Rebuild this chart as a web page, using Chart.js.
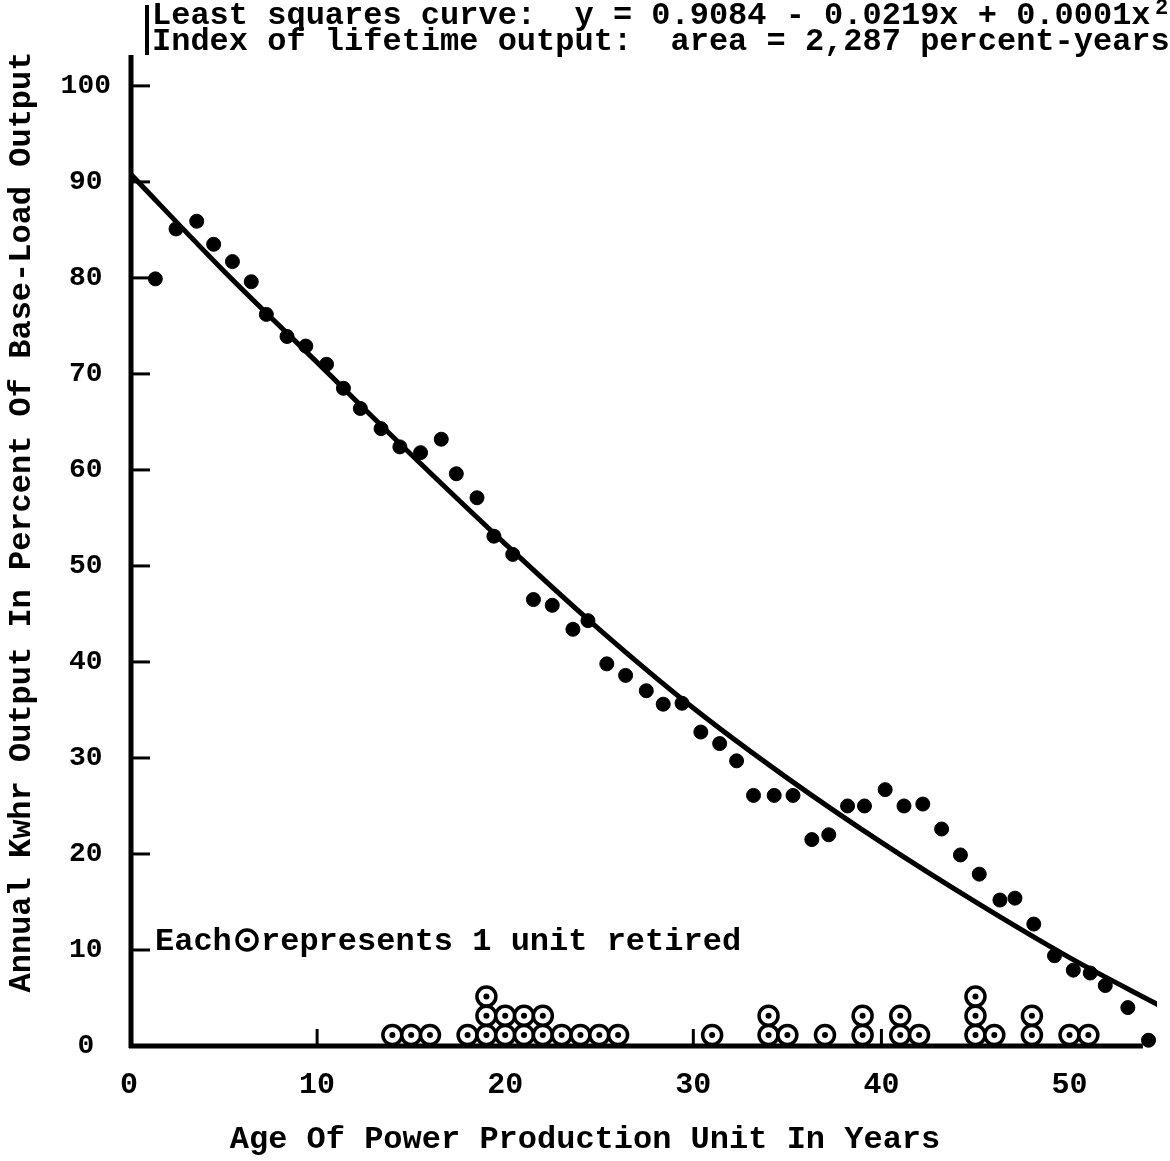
<!DOCTYPE html>
<html>
<head>
<meta charset="utf-8">
<title>Annual output vs. age of power production units</title>
<script src="https://cdn.jsdelivr.net/npm/chart.js@4.4.1/dist/chart.umd.min.js"></script>
<style>
  html, body { margin: 0; padding: 0; background: #fff; }
  canvas { display: block; }
</style>
</head>
<body>
<canvas id="age-chart" width="1170" height="1161"></canvas>
<script>
// annual output of units by age (years, % of base-load output)
const unitAge = [1.4, 2.5, 3.6, 4.5, 5.5, 6.5, 7.3, 8.4, 9.4, 10.5, 11.4, 12.3, 13.4, 14.4, 15.5, 16.6, 17.4, 18.5,
  19.4, 20.4, 21.5, 22.5, 23.6, 24.4, 25.4, 26.4, 27.5, 28.4, 29.4, 30.4, 31.4, 32.3, 33.2, 34.3, 35.3, 36.3,
  37.2, 38.2, 39.1, 40.2, 41.2, 42.2, 43.2, 44.2, 45.2, 46.3, 47.1, 48.1, 49.2, 50.2, 51.1, 51.9, 53.1, 54.2];
const outputPct = [79.9, 85.1, 85.9, 83.5, 81.7, 79.6, 76.2, 73.9, 72.9, 71.0, 68.5, 66.4, 64.3, 62.4, 61.8, 63.2, 59.6, 57.1,
  53.1, 51.2, 46.5, 45.9, 43.4, 44.3, 39.8, 38.6, 37.0, 35.6, 35.7, 32.7, 31.5, 29.7, 26.1, 26.1, 26.1, 21.5,
  22.0, 25.0, 25.0, 26.7, 25.0, 25.2, 22.6, 19.9, 17.9, 15.2, 15.4, 12.7, 9.4, 7.9, 7.6, 6.3, 4.0, 0.6];

// fitted curve, read at 5-year steps
const curveAge = [0, 5, 10, 15, 20, 25, 30, 35, 40, 45, 50, 55];
const curvePct = [91.0, 80.8, 71.2, 61.6, 52.3, 43.4, 35.2, 27.9, 21.2, 15.0, 9.2, 4.0];

// units retired at each age
const retiredAge = [14, 15, 16, 18, 19, 20, 21, 22, 23, 24, 25, 26, 31, 34, 35, 37, 39, 41, 42, 45, 46, 48, 50, 51];
const retiredCount = [1, 1, 1, 1, 3, 2, 2, 2, 1, 1, 1, 1, 1, 2, 1, 1, 2, 2, 1, 3, 1, 2, 1, 1];

const xTickValues = [0, 10, 20, 30, 40, 50];
const yTickValues = [0, 10, 20, 30, 40, 50, 60, 70, 80, 90, 100];

const fitLabel = 'Least squares curve:  y = 0.9084 - 0.0219x + 0.0001x';
const fitExponent = '2';
const areaLabel = 'Index of lifetime output:  area = 2,287 percent-years';
const noteBefore = 'Each';
const noteAfter = 'represents 1 unit retired';
const xTitle = 'Age Of Power Production Unit In Years';
const yTitle = 'Annual Kwhr Output In Percent Of Base-Load Output';

const MONO = '"Liberation Mono", "DejaVu Sans Mono", monospace';

// one circle per retired unit, stacked upward
const retiredPoints = [];
retiredAge.forEach((age, i) => {
  for (let k = 0; k < retiredCount[i]; k++) {
    retiredPoints.push({ x: age, y: 1.15 + 2 * k });
  }
});

const outputPoints = unitAge.map((a, i) => ({ x: a, y: outputPct[i] }));
const curvePoints = curveAge.map((a, i) => ({ x: a, y: curvePct[i] }));

// axes, inward ticks and the typed annotations
const frame = {
  id: 'frame',
  beforeDatasetsDraw(chart) {
    const { ctx, chartArea, scales: { x, y } } = chart;
    const x0 = x.getPixelForValue(0);
    const y0 = y.getPixelForValue(0);
    ctx.save();
    ctx.strokeStyle = '#000';
    ctx.lineWidth = 5;
    ctx.beginPath();
    ctx.moveTo(x0 + 2, chartArea.top - 4);
    ctx.lineTo(x0 + 2, y0 + 2);
    ctx.stroke();
    ctx.beginPath();
    ctx.moveTo(x0, y0);
    ctx.lineTo(x.getPixelForValue(53.9), y0);
    ctx.stroke();
    // short bar beside the heading
    ctx.lineWidth = 4;
    ctx.beginPath();
    ctx.moveTo(147, 5);
    ctx.lineTo(147, 55);
    ctx.stroke();

    ctx.lineWidth = 3;
    yTickValues.forEach(v => {
      if (v === 0) return;
      const py = y.getPixelForValue(v);
      ctx.beginPath();
      ctx.moveTo(x0, py);
      ctx.lineTo(x0 + 21, py);
      ctx.stroke();
    });
    xTickValues.forEach(v => {
      if (v === 0) return;
      const px = x.getPixelForValue(v);
      ctx.beginPath();
      ctx.moveTo(px, y0);
      ctx.lineTo(px, y0 - 17);
      ctx.stroke();
    });
    ctx.restore();
  },
  afterDraw(chart) {
    const { ctx } = chart;
    ctx.save();
    ctx.fillStyle = '#000';
    ctx.strokeStyle = '#000';
    ctx.textBaseline = 'alphabetic';
    ctx.textAlign = 'left';
    ctx.font = 'bold 32px ' + MONO;
    ctx.fillText(fitLabel, 152, 24);
    ctx.fillText(areaLabel, 152, 50);
    ctx.fillText(noteBefore, 155, 950);
    ctx.fillText(noteAfter, 261, 950);
    ctx.font = 'bold 22px ' + MONO;
    ctx.fillText(fitExponent, 1155, 14);

    // sample circle in the note
    ctx.lineWidth = 3.5;
    ctx.beginPath();
    ctx.arc(247, 940, 10, 0, Math.PI * 2);
    ctx.stroke();
    ctx.beginPath();
    ctx.arc(247, 940, 3, 0, Math.PI * 2);
    ctx.fill();

    ctx.font = 'bold 32px ' + MONO;
    ctx.textAlign = 'center';
    ctx.fillText(xTitle, 585, 1148);
    ctx.translate(22, 522);
    ctx.rotate(-Math.PI / 2);
    ctx.textBaseline = 'middle';
    ctx.fillText(yTitle, 0, 0);
    ctx.restore();
  }
};

new Chart(document.getElementById('age-chart'), {
  data: {
    datasets: [
      {
        type: 'line',
        data: curvePoints,
        borderColor: '#000',
        borderWidth: 5,
        pointRadius: 0,
        cubicInterpolationMode: 'monotone',
        fill: false,
        order: 4
      },
      {
        type: 'scatter',
        data: outputPoints,
        backgroundColor: '#000',
        borderColor: '#000',
        borderWidth: 1,
        pointRadius: 7,
        clip: false,
        order: 3
      },
      {
        type: 'scatter',
        data: retiredPoints,
        backgroundColor: '#fff',
        borderColor: '#000',
        borderWidth: 3.5,
        pointRadius: 9.5,
        clip: false,
        order: 2
      },
      {
        type: 'scatter',
        data: retiredPoints,
        backgroundColor: '#000',
        borderColor: '#000',
        borderWidth: 0,
        pointRadius: 3,
        clip: false,
        order: 1
      }
    ]
  },
  options: {
    responsive: false,
    animation: false,
    devicePixelRatio: 1,
    layout: { padding: { top: 59, right: 0, left: 0, bottom: 0 } },
    plugins: {
      legend: { display: false },
      tooltip: { enabled: false }
    },
    scales: {
      x: {
        type: 'linear',
        min: 0,
        max: 54.65,
        afterBuildTicks: scale => { scale.ticks = xTickValues.map(v => ({ value: v })); },
        afterFit: scale => { scale.height = 115; },
        grid: { display: false, drawTicks: false },
        border: { display: false },
        ticks: {
          color: '#000',
          padding: 21,
          maxRotation: 0,
          font: { family: MONO, size: 30, weight: 'bold' }
        }
      },
      y: {
        type: 'linear',
        min: 0,
        max: 102.8,
        afterBuildTicks: scale => { scale.ticks = yTickValues.map(v => ({ value: v })); },
        afterFit: scale => { scale.width = 129; },
        grid: { display: false, drawTicks: false },
        border: { display: false },
        ticks: {
          color: '#000',
          padding: 18,
          crossAlign: 'center',
          font: { family: MONO, size: 28, weight: 'bold' }
        }
      }
    }
  },
  plugins: [frame]
});
</script>
</body>
</html>
